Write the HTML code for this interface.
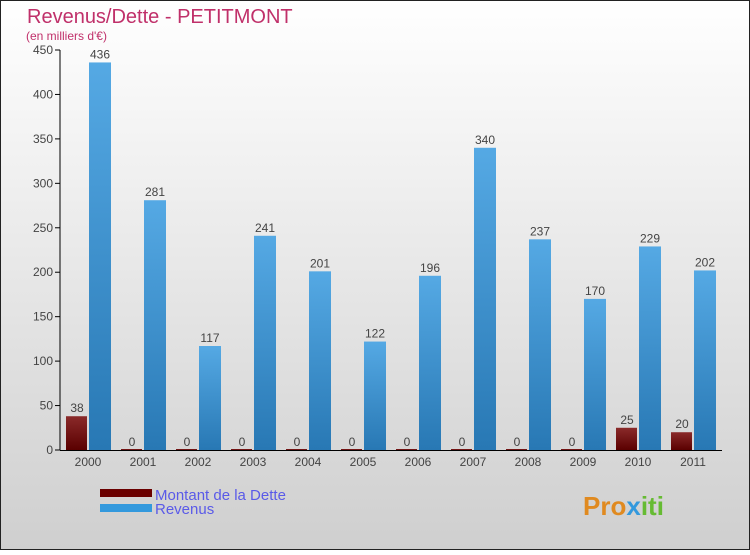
<!DOCTYPE html>
<html><head><meta charset="utf-8"><style>
body{margin:0}
svg text{font-family:"Liberation Sans",sans-serif}
</style></head><body>
<svg width="750" height="550" xmlns="http://www.w3.org/2000/svg">
<defs>
<linearGradient id="bg" x1="0" y1="0" x2="0" y2="1"><stop offset="0" stop-color="#ffffff"/><stop offset="1" stop-color="#cfcfcf"/></linearGradient>
<linearGradient id="gb" x1="0" y1="0" x2="0" y2="1"><stop offset="0" stop-color="#55a9e4"/><stop offset="1" stop-color="#2878b4"/></linearGradient>
<linearGradient id="gr" x1="0" y1="0" x2="0" y2="1"><stop offset="0" stop-color="#8a2a2a"/><stop offset="1" stop-color="#5a0000"/></linearGradient>
</defs>
<rect x="0.5" y="0.5" width="749" height="549" fill="url(#bg)" stroke="#222"/>
<text x="27" y="23" font-size="20" fill="#c0306a">Revenus/Dette - PETITMONT</text>
<text x="26" y="40" font-size="12" fill="#c0306a">(en milliers d'€)</text>
<g id="plot"></g>
<g>
<rect x="100" y="489" width="52" height="8" fill="#6a0000"/>
<text x="155" y="500" font-size="15" fill="#5a5ae8">Montant de la Dette</text>
<rect x="100" y="504" width="52" height="8" fill="#3399dd"/>
<text x="155" y="514" font-size="15" fill="#5a5ae8">Revenus</text>
</g>
<text x="583" y="515" font-size="26" font-weight="bold" fill="#e08a20">Pro<tspan fill="#3399dd">x</tspan><tspan fill="#66bb33">iti</tspan></text>
</svg>
<script>
const years=["2000","2001","2002","2003","2004","2005","2006","2007","2008","2009","2010","2011"];
const dette=[38,0,0,0,0,0,0,0,0,0,25,20];
const revenus=[436,281,117,241,201,122,196,340,237,170,229,202];
const yTicks=[0,50,100,150,200,250,300,350,400,450];
const NS="http://www.w3.org/2000/svg";
const g=document.getElementById('plot');
const y0=450,yTop=50,yMax=450;
const Y=v=>y0-v*(y0-yTop)/yMax;
const X=i=>88+i*55;
function el(t,a,txt){const e=document.createElementNS(NS,t);for(const k in a)e.setAttribute(k,a[k]);if(txt!==undefined)e.textContent=txt;g.appendChild(e);return e;}
yTicks.forEach(t=>{
 const l=el('line',{x1:55,x2:60,y1:Y(t),y2:Y(t),stroke:'#000'});
 
 
 const tx=el('text',{x:53,y:Y(t)+4,'font-size':12,fill:'#444','text-anchor':'end'},t);
 
 
});
years.forEach((yr,i)=>{
 const c=X(i);
 const d=dette[i],r=revenus[i];
 const b1=el('rect',{x:c-22,y:Y(d)-(d===0?1:0),width:21,height:Math.max(1,y0-Y(d)),fill:'url(#gr)'});
 
 
 const b2=el('rect',{x:c+1,y:Y(r),width:22,height:y0-Y(r),fill:'url(#gb)'});
 
 
 const t1=el('text',{x:c-11,y:Y(d)-4,'font-size':12,fill:'#444','text-anchor':'middle'},d);
 
 
 const t2=el('text',{x:c+12,y:Y(r)-4,'font-size':12,fill:'#444','text-anchor':'middle'},r);
 
 
 const xl=el('text',{x:c,y:y0+16,'font-size':12,fill:'#444','text-anchor':'middle'},yr);
 
 
});
const ya=el('line',{x1:60,x2:60,y1:y0,y2:Y(450),stroke:'#000'});


const xa=el('line',{x1:60,x2:722,y1:y0+0.5,y2:y0+0.5,stroke:'#000'});


</script>
</body></html>
